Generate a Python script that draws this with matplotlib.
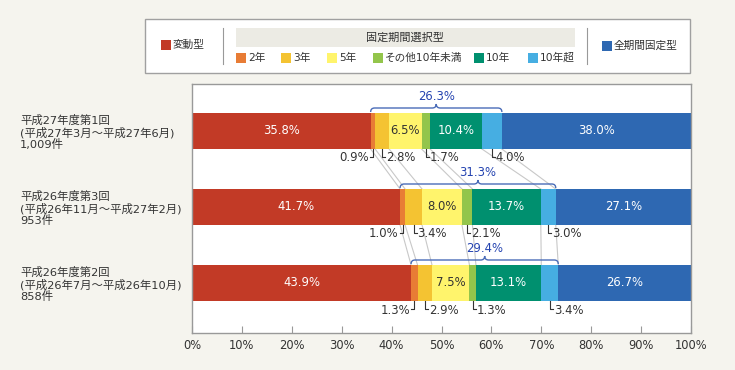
import matplotlib.pyplot as plt
from matplotlib.patches import Rectangle, PathPatch
from matplotlib.path import Path

plt.rcParams['font.family'] = ['DejaVu Sans', 'Noto Sans CJK JP']

# Données (%), du haut vers le bas
rounds = ['平成27年度第1回\n(平成27年3月～平成27年6月)\n1,009件',
          '平成26年度第3回\n(平成26年11月～平成27年2月)\n953件',
          '平成26年度第2回\n(平成26年7月～平成26年10月)\n858件']
categories = ['変動型', '2年', '3年', '5年', 'その他10年未満', '10年', '10年超', '全期間固定型']
hendou = [35.8, 41.7, 43.9]
nen2 = [0.9, 1.0, 1.3]
nen3 = [2.8, 3.4, 2.9]
nen5 = [6.5, 8.0, 7.5]
sonota = [1.7, 2.1, 1.3]
nen10 = [10.4, 13.7, 13.1]
nen10cho = [4.0, 3.0, 3.4]
zenkikan = [38.0, 27.1, 26.7]
kotei_total = [26.3, 31.3, 29.4]

colors = ['#c23a26', '#e87c35', '#f4c332', '#fff46c', '#93c54b', '#00906f', '#46aee2', '#2e68b2']
series = [hendou, nen2, nen3, nen5, sonota, nen10, nen10cho, zenkikan]
inside = [0, 3, 5, 7]          # étiquettes dans la barre
outside = [1, 2, 4, 6]         # étiquettes sous la barre (avec petit trait)

W, H = 735, 370
def fx(x): return x / W
def fy(y): return 1 - y / H

fig = plt.figure(figsize=(W / 100, H / 100), dpi=100, facecolor='#f5f4ee')
ax = fig.add_axes([fx(192), fy(333), (691 - 192) / W, (333 - 84) / H])
ax.set_facecolor('white')

ypx = 1 / 76.0           # unité y par pixel
xpx = 100 / 499.0        # % par pixel
h = 36 * ypx
ys = [0, 1, 2]

# barres empilées
lefts = [0.0, 0.0, 0.0]
bounds = [[], [], []]
for k, vals in enumerate(series):
    ax.barh(ys, vals, left=lefts, height=h, color=colors[k], zorder=2)
    for i in range(3):
        lefts[i] += vals[i]
        if k < 7:
            bounds[i].append(lefts[i])

# lignes de liaison entre barres
for i in range(2):
    for b1, b2 in zip(bounds[i], bounds[i + 1]):
        ax.plot([b1, b2], [ys[i] + h / 2, ys[i + 1] - h / 2], color='#c8c8c8', lw=0.8, zorder=1)

# étiquettes
for i in range(3):
    start = 0.0
    for k, vals in enumerate(series):
        v = vals[i]
        xc = start + v / 2
        if k in inside:
            ax.text(min(xc, 100 - (100 - start) / 2), ys[i], f'{v:.1f}%', ha='center', va='center',
                    fontsize=8.4, color='#333333' if k == 3 else 'white', zorder=4)
        elif k in outside:
            yb = ys[i] + h / 2
            yl = yb + 8 * ypx
            if k == 1:
                ax.plot([xc, xc, xc - 3 * xpx], [yb, yl, yl], color='#333333', lw=0.8, zorder=4)
                ax.text(xc - 4 * xpx, yl + 1 * ypx, f'{v:.1f}%', ha='right', va='center',
                        fontsize=8.4, color='#333333')
            else:
                ax.plot([xc, xc, xc + 3 * xpx], [yb, yl, yl], color='#333333', lw=0.8, zorder=4)
                ax.text(xc + 4 * xpx, yl + 1 * ypx, f'{v:.1f}%', ha='left', va='center',
                        fontsize=8.4, color='#333333')
        start += v

# accolades "固定期間選択型"
for i in range(3):
    x0 = hendou[i]
    x1 = bounds[i][6]
    xm = (x0 + x1) / 2
    top = ys[i] - h / 2
    yb, yl, yp = top - 1 * ypx, top - 5 * ypx, top - 9 * ypx
    r = 4 * xpx
    verts = [(x0, yb), (x0, yl), (x0 + r, yl), (xm - r, yl), (xm, yl), (xm, yp),
             (xm, yl), (xm + r, yl), (x1 - r, yl), (x1, yl), (x1, yb)]
    codes = [Path.MOVETO, Path.CURVE3, Path.CURVE3, Path.LINETO, Path.CURVE3, Path.CURVE3,
             Path.CURVE3, Path.CURVE3, Path.LINETO, Path.CURVE3, Path.CURVE3]
    ax.add_patch(PathPatch(Path(verts, codes), fc='none', ec='#4a6cb8', lw=1, zorder=3))
    ax.text(xm, top - 16 * ypx, f'{kotei_total[i]:.1f}%', ha='center', va='center',
            fontsize=8.4, color='#2443b0')

ax.set_xlim(0, 100)
ax.set_ylim(2 + 50 * ypx, -47 * ypx)
ax.set_xticks(range(0, 101, 10))
ax.set_xticklabels([f'{v}%' for v in range(0, 101, 10)])
ax.tick_params(axis='x', direction='in', length=5, color='#999999', labelcolor='#333333',
               labelsize=8.3, pad=4)
ax.set_yticks(ys)
ax.set_yticklabels(rounds)
ax.tick_params(axis='y', length=0, pad=123.8, labelsize=8.2, labelcolor='#333333')
for lab in ax.get_yticklabels():
    lab.set_ha('left')
    lab.set_linespacing(1.05)
for s in ax.spines.values():
    s.set_color('#999999')
    s.set_linewidth(1)

# légende
fig.patches.append(Rectangle((fx(145), fy(73)), 545 / W, 54 / H, transform=fig.transFigure,
                             fc='white', ec='#a0a0a0', lw=1))
def leg_item(x, y, k):
    fig.patches.append(Rectangle((fx(x), fy(y + 5)), 10 / W, 10 / H, transform=fig.transFigure,
                                 fc=colors[k], ec='none'))
    fig.text(fx(x + 12), fy(y), categories[k], ha='left', va='center', fontsize=7.7, color='#333333')

leg_item(161, 45, 0)
fig.add_artist(plt.Line2D([fx(223), fx(223)], [fy(28), fy(64)], color='#999999', lw=0.8))
fig.patches.append(Rectangle((fx(236), fy(47)), 339 / W, 19 / H, transform=fig.transFigure,
                             fc='#ecebe4', ec='none'))
fig.text(fx(405), fy(37.5), '固定期間選択型', ha='center', va='center', fontsize=8, color='#333333')
for x, k in zip([236, 281, 327, 373, 474, 528], [1, 2, 3, 4, 5, 6]):
    leg_item(x, 58, k)
fig.add_artist(plt.Line2D([fx(587), fx(587)], [fy(28), fy(64)], color='#999999', lw=0.8))
leg_item(602, 46, 7)

fig.savefig('out.png', dpi=100, facecolor=fig.get_facecolor())
